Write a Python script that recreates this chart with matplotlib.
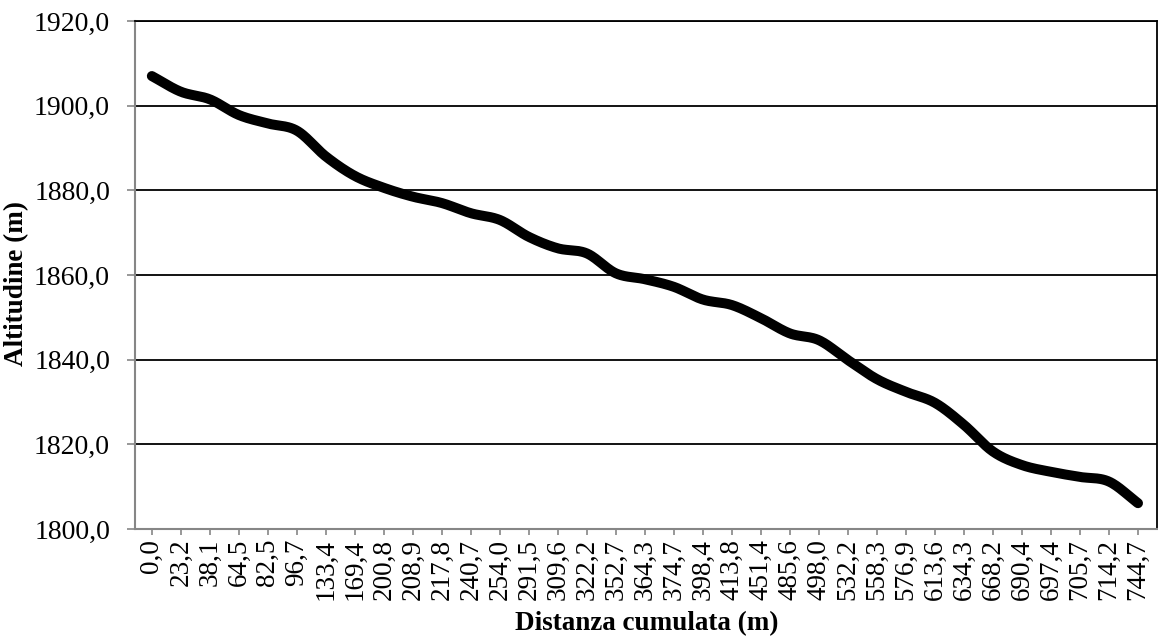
import numpy as np
import matplotlib
matplotlib.use('Agg')
import matplotlib.pyplot as plt

# ------------------------------------------------------------------
# Data (altitude profile)
# ------------------------------------------------------------------
distanza = [0.0, 23.2, 38.1, 64.5, 82.5, 96.7, 133.4, 169.4, 200.8, 208.9,
            217.8, 240.7, 254.0, 291.5, 309.6, 322.2, 352.7, 364.3, 374.7,
            398.4, 413.8, 451.4, 485.6, 498.0, 532.2, 558.3, 576.9, 613.6,
            634.3, 668.2, 690.4, 697.4, 705.7, 714.2, 744.7]

altitudine = [1907.0, 1903.3, 1901.5, 1897.8, 1895.8, 1894.1, 1888.0, 1883.4,
              1880.6, 1878.5, 1877.0, 1874.6, 1873.0, 1869.0, 1866.3, 1865.1,
              1860.4, 1859.0, 1857.2, 1854.2, 1852.9, 1849.8, 1846.2, 1844.6,
              1839.9, 1835.4, 1832.4, 1829.8, 1824.6, 1818.3, 1815.1, 1813.5,
              1812.3, 1811.2, 1806.1]

y_ticks = [1800, 1820, 1840, 1860, 1880, 1900, 1920]


def _smooth(x, y, n=24):
    """Catmull-Rom curve through the points (like Excel's smoothed line)."""
    x = np.asarray(x, float)
    y = np.asarray(y, float)
    px = np.concatenate([[2 * x[0] - x[1]], x, [2 * x[-1] - x[-2]]])
    py = np.concatenate([[2 * y[0] - y[1]], y, [2 * y[-1] - y[-2]]])
    t = np.linspace(0, 1, n, endpoint=False)
    xs, ys = [], []
    for i in range(1, len(px) - 2):
        for p, out in ((px, xs), (py, ys)):
            p0, p1, p2, p3 = p[i - 1], p[i], p[i + 1], p[i + 2]
            out.append(0.5 * (2 * p1 + (-p0 + p2) * t
                              + (2 * p0 - 5 * p1 + 4 * p2 - p3) * t ** 2
                              + (-p0 + 3 * p1 - 3 * p2 + p3) * t ** 3))
    xs.append([x[-1]])
    ys.append([y[-1]])
    return np.concatenate(xs), np.concatenate(ys)


plt.rcParams['font.family'] = ['Liberation Serif', 'DejaVu Serif']

W, H = 1158, 643
fig = plt.figure(figsize=(W / 100, H / 100), dpi=100)
ax = fig.add_axes([0.1166, 0.1773, 0.8824, 0.79])

idx = np.arange(len(distanza))
sx, sy = _smooth(idx, altitudine)
ax.plot(sx, sy, color='black', linewidth=7.2, solid_capstyle='round',
        solid_joinstyle='round', zorder=3)

ax.set_ylim(1800, 1920)
ax.set_xlim(-0.58, len(distanza) - 1 + 0.65)

ax.set_yticks(y_ticks)
ax.set_yticklabels([f'{v:.1f}'.replace('.', ',') for v in y_ticks])
ax.set_xticks(idx)
ax.set_xticklabels([f'{v:.1f}'.replace('.', ',') for v in distanza],
                   rotation=90)

ax.yaxis.grid(True, color='black', linewidth=1.3)
ax.set_axisbelow(True)

for side in ('left', 'bottom'):
    ax.spines[side].set_color('#868686')
    ax.spines[side].set_linewidth(1.5)
for side in ('top', 'right'):
    ax.spines[side].set_color('black')
    ax.spines[side].set_linewidth(1.3)

ax.tick_params(axis='y', direction='out', length=6, width=1.2,
               color='#868686', labelsize=20, pad=12)
ax.tick_params(axis='x', direction='out', length=4, width=1.2,
               color='#868686', labelsize=19.5, pad=3)

# axis titles placed like the Excel original
fig.text(17 / W, 1 - 283 / H, 'Altitudine (m)', rotation=90,
         fontsize=19.5, fontweight='bold', ha='center', va='center')
fig.text(647 / W, 1 - 624 / H, 'Distanza cumulata (m)',
         fontsize=19.5, fontweight='bold', ha='center', va='center')

fig.savefig('out.png', dpi=100)
